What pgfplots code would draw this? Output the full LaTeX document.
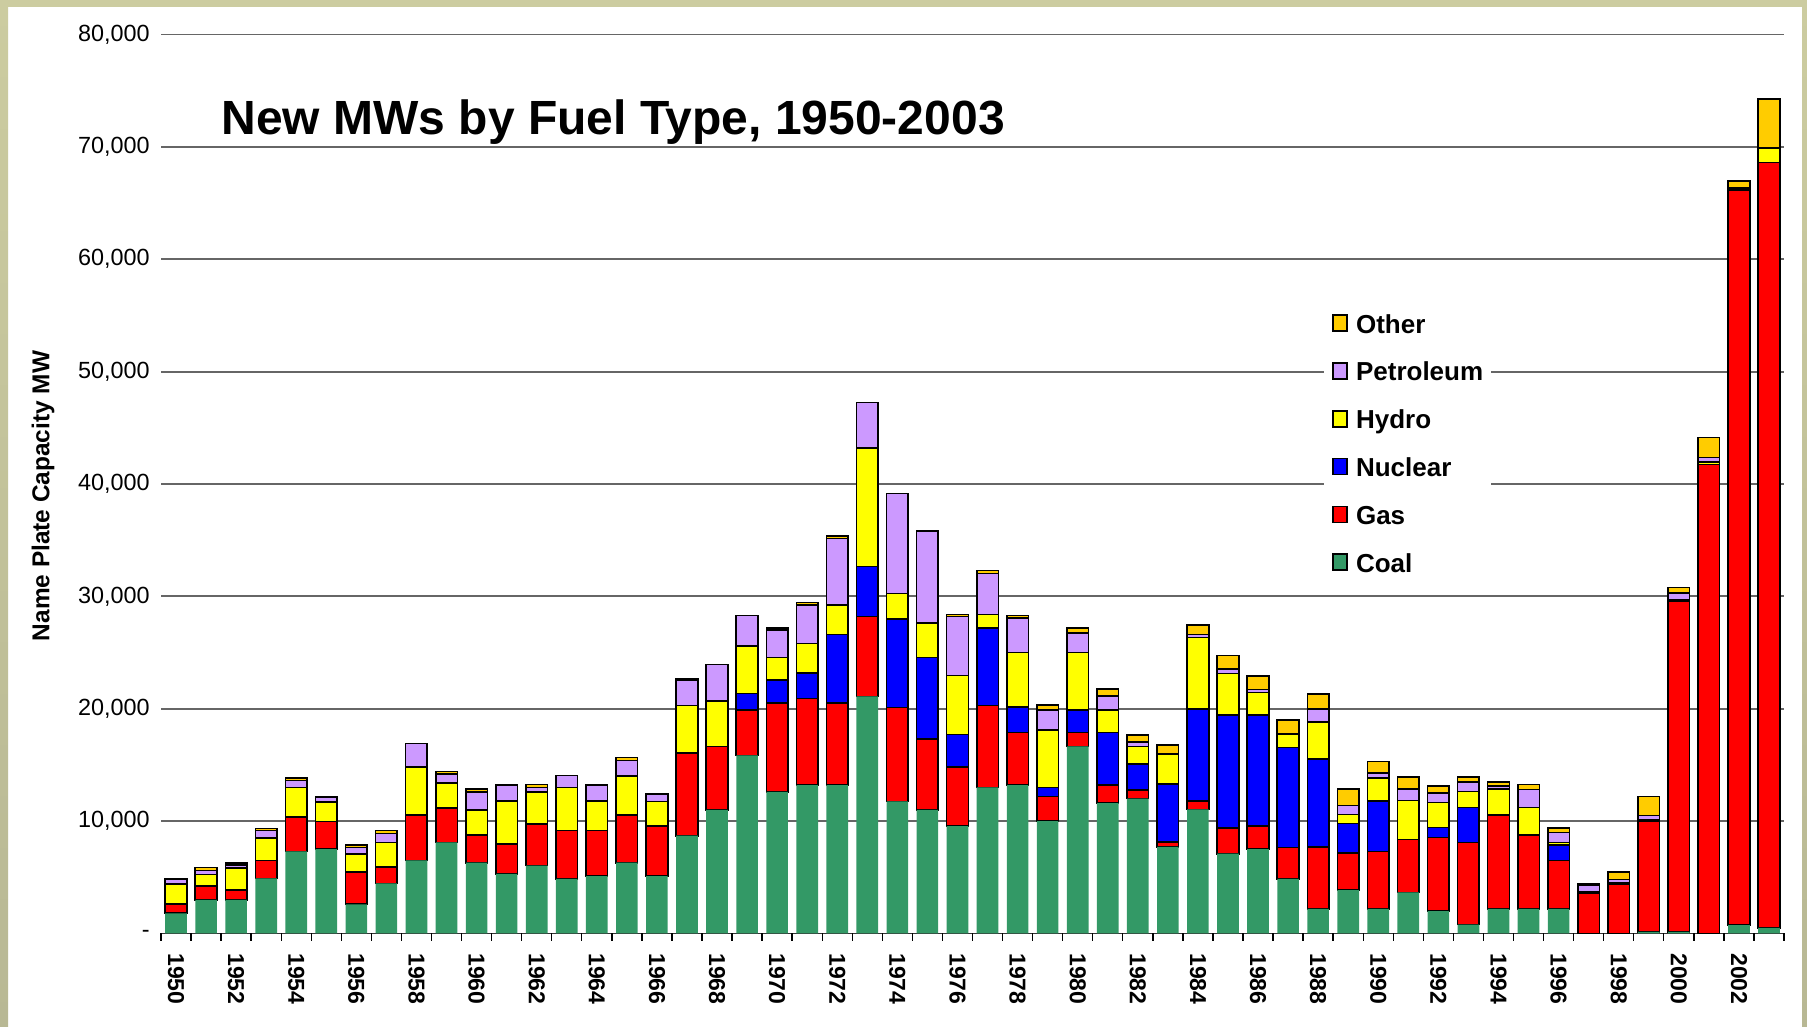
\documentclass[border=0pt]{standalone}
\usepackage{pgfplots}
\pgfplotsset{compat=1.18}
\usepackage{pgfplotstable}
\usepackage{fontspec}
\setmainfont{Liberation Sans}
\definecolor{coalc}{HTML}{339966}
\definecolor{gasc}{HTML}{FF0000}
\definecolor{nucc}{HTML}{0000FF}
\definecolor{hydroc}{HTML}{FFFF00}
\definecolor{petc}{HTML}{CC99FF}
\definecolor{otherc}{HTML}{FFCC00}
\definecolor{frametop}{HTML}{CCCCA0}
\definecolor{framemid}{HTML}{F8F8D2}
\definecolor{framebot}{HTML}{B8B894}
\pgfplotstableread{
idx Coal Gas Nuclear Hydro Petroleum Other
0 1800 800 0 1800 450 50
1 3000 1250 0 1000 350 270
2 3000 850 0 2000 230 200
3 4900 1600 0 2000 650 200
4 7300 3050 0 2650 620 200
5 7500 2450 0 1750 450 50
6 2600 2850 0 1650 550 250
7 4450 1450 0 2200 800 250
8 6500 4050 0 4250 2100 0
9 8100 3050 0 2250 770 260
10 6300 2450 0 2250 1600 250
11 5300 2650 0 3850 1400 0
12 6050 3700 0 2850 400 250
13 4850 4300 0 3850 1050 0
14 5100 4050 0 2650 1400 0
15 6300 4250 0 3450 1400 250
16 5100 4450 0 2200 650 0
17 8700 7350 0 4250 2250 150
18 11000 5650 0 4050 3250 0
19 15850 4050 1450 4250 2700 0
20 12600 7900 2050 2000 2450 200
21 13200 7700 2300 2600 3450 200
22 13200 7300 6100 2650 5900 200
23 21100 7100 4450 10550 4050 0
24 11750 8350 7900 2250 8900 0
25 11000 6300 7250 3100 8150 0
26 9550 5250 2900 5250 5250 200
27 13000 7300 6900 1200 3650 250
28 13200 4700 2250 4850 3050 250
29 10000 2200 800 5100 1800 450
30 16650 1250 2000 5100 1750 450
31 11600 1600 4700 2000 1250 600
32 12000 750 2350 1550 400 600
33 7700 450 5150 2650 0 850
34 11050 750 8200 6350 250 850
35 7100 2300 10050 3700 400 1200
36 7500 2050 9900 2000 250 1200
37 4850 2800 8900 1200 0 1250
38 2200 5500 7850 3250 1200 1300
39 3850 3300 2650 800 800 1450
40 2200 5100 4500 2050 450 1000
41 3650 4700 0 3500 1000 1050
42 2000 6550 900 2200 850 600
43 800 7300 3100 1450 850 400
44 2200 8350 0 2300 250 400
45 2200 6550 0 2450 1600 450
46 2200 4300 1400 200 900 400
47 0 3600 0 100 600 150
48 0 4400 0 150 250 650
49 150 9850 0 100 400 1700
50 150 29450 0 100 600 500
51 0 41750 0 200 400 1800
52 750 65400 0 0 200 600
53 500 68100 0 1300 0 4350
}\datatable
\begin{document}
\begin{tikzpicture}
\useasboundingbox (0,0) rectangle (903.5bp,513.5bp);
\fill[white] (0,0) rectangle (903.5bp,513.5bp);
\shade[top color=frametop, middle color=framemid, bottom color=framebot] (0,0) rectangle (4bp,513.5bp);
\shade[top color=frametop, middle color=framemid, bottom color=framebot] (901bp,0) rectangle (903.5bp,513.5bp);
\fill[frametop] (0,510bp) rectangle (903.5bp,513.5bp);
\begin{axis}[
  at={(80.5bp,46.75bp)}, anchor=south west,
  scale only axis, width=811.5bp, height=449.5bp,
  ybar stacked, bar width=0.72,
  xmin=-0.5, xmax=53.5, ymin=0, ymax=80000,
  scaled y ticks=false,
  axis x line*=bottom, axis y line*=left,
  y axis line style={draw=none},
  x axis line style={draw=black!80, line width=0.8bp},
  ymajorgrids, grid style={draw=black!60, line width=0.9bp},
  ytick={0,10000,20000,30000,40000,50000,60000,70000,80000},
  yticklabels={{-\hspace{16bp}},{10,000},{20,000},{30,000},{40,000},{50,000},{60,000},{70,000},{80,000}},
  yticklabel style={font=\fontsize{11.7bp}{14bp}\selectfont, inner sep=0pt, xshift=-5.5bp},
  ytick style={draw=none},
  xtick={0,2,...,52},
  xticklabels={1950,1952,1954,1956,1958,1960,1962,1964,1966,1968,1970,1972,1974,1976,1978,1980,1982,1984,1986,1988,1990,1992,1994,1996,1998,2000,2002},
  xticklabel style={yshift=-9.75bp, rotate=-90, anchor=west, inner sep=0pt, font=\fontsize{11.5bp}{13bp}\selectfont\bfseries},
  xtick style={draw=none},
  extra x ticks={-0.5,0.5,...,53.5},
  extra x tick labels={},
  extra x tick style={xtick style={draw=black, line width=0.7bp}, major tick length=3.5bp, tick align=outside},
  every axis plot/.append style={draw=black, line width=0.8bp},
  legend style={at={(0.7166,0.6984)}, anchor=north west, draw=none, fill=white,
    inner sep=4bp, row sep=11.6bp, column sep=4bp,
    nodes={inner sep=0pt, text height=9.5bp, text depth=2.8bp, font=\fontsize{13bp}{15bp}\selectfont\bfseries},
    cells={anchor=west}},
  legend image code/.code={\draw[#1] (0bp,-2.4bp) rectangle (7bp,5.6bp);},
  reverse legend,
]
\addplot[fill=coalc, draw=none] table[x=idx, y=Coal] \datatable;
\addplot[fill=gasc] table[x=idx, y=Gas] \datatable;
\addplot[fill=nucc] table[x=idx, y=Nuclear] \datatable;
\addplot[fill=hydroc] table[x=idx, y=Hydro] \datatable;
\addplot[fill=petc] table[x=idx, y=Petroleum] \datatable;
\addplot[fill=otherc] table[x=idx, y=Other] \datatable;
\legend{Coal,Gas,Nuclear,Hydro,Petroleum,Other}
\end{axis}
\node[anchor=base west, font=\fontsize{24bp}{28bp}\selectfont\bfseries, inner sep=0pt] at (110.5bp,446bp) {New MWs by Fuel Type, 1950-2003};
\node[rotate=90, font=\fontsize{12.2bp}{14bp}\selectfont\bfseries, inner sep=0pt] at (21.5bp,265.5bp) {Name Plate Capacity MW};
\end{tikzpicture}
\end{document}
